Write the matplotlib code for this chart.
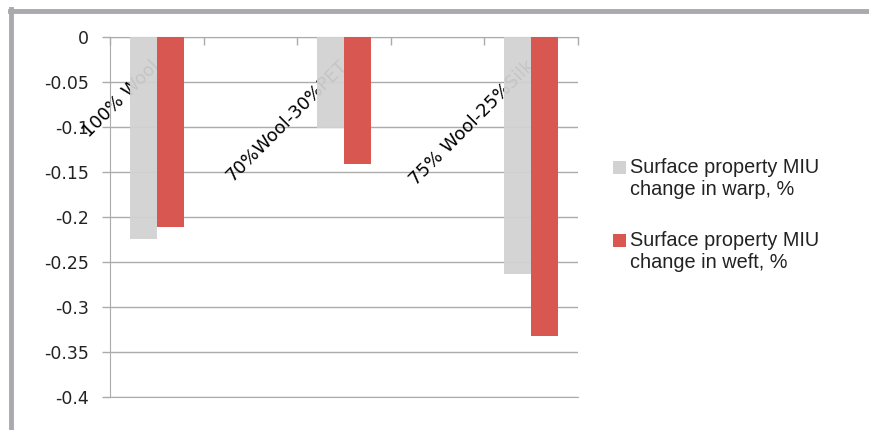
import numpy as np
import matplotlib.pyplot as plt
from matplotlib.lines import Line2D
from matplotlib.patches import Rectangle

# данные
categories = ["100% Wool", "", "70%Wool-30%PET", "", "75% Wool-25%Silk"]
warp = [-0.225, np.nan, -0.101, np.nan, -0.263]
weft = [-0.211, np.nan, -0.141, np.nan, -0.332]
series_names = ["Surface property MIU\nchange in warp, %",
                "Surface property MIU\nchange in weft, %"]
yticks = [0, -0.05, -0.1, -0.15, -0.2, -0.25, -0.3, -0.35, -0.4]
ytick_labels = ["0", "-0.05", "-0.1", "-0.15", "-0.2", "-0.25", "-0.3", "-0.35", "-0.4"]

gray = "#d2d2d2"
red = "#d85750"
colors = [gray, red]

fig = plt.figure(figsize=(8.7, 4.3), dpi=100)
ax = fig.add_axes([110 / 870, 1 - 397 / 430, 468 / 870, 360 / 430])

x = np.arange(len(categories))
w = 0.288
ax.bar(x - w / 2, warp, w, color=gray, alpha=0.94, zorder=3)
ax.bar(x + w / 2, weft, w, color=red, zorder=3)

# подписи категорий под осью, повернутые на 45 градусов
for i, name in enumerate(categories):
    if name:
        ax.text(i + 0.07, -0.022, name, rotation=45, ha="right", va="top",
                fontsize=13, color="black", zorder=2)

ax.set_xlim(-0.5, len(categories) - 0.5)
ax.set_ylim(-0.4, 0)
ax.set_yticks(yticks)
ax.set_yticklabels(ytick_labels, fontsize=12.5, color="#222222")
ax.yaxis.grid(True, color="#ababab", linewidth=1, zorder=0)
ax.set_axisbelow(True)

ax.xaxis.set_ticks_position("top")
ax.set_xticks(np.arange(-0.5, len(categories)))
ax.set_xticklabels([])
ax.tick_params(axis="x", direction="in", length=6, color="#ababab", width=1)
ax.tick_params(axis="y", length=6, color="#ababab", width=1, pad=9)

ax.spines["right"].set_visible(False)
for side in ["left", "top", "bottom"]:
    ax.spines[side].set_color("#ababab")

# легенда справа: квадрат на уровне первой строки
leg_y = [1 - 167 / 430, 1 - 240 / 430]
for name, c, yy in zip(series_names, colors, leg_y):
    fig.add_artist(Rectangle((613 / 870, yy - 6.5 / 430), 13 / 870, 13 / 430,
                             facecolor=c, edgecolor="none", transform=fig.transFigure))
    fig.text(630 / 870, yy + 9 / 430, name, ha="left", va="top",
             family="Liberation Sans", fontsize=14.3, color="#222222",
             linespacing=1.2)

# рамка вокруг картинки
fig.add_artist(Line2D([10 / 870, 1], [1 - 10.5 / 430, 1 - 10.5 / 430],
                      color="#a9a9ae", linewidth=3.5))
fig.add_artist(Line2D([11.5 / 870, 11.5 / 870], [0, 1 - 9 / 430],
                      color="#a9a9ae", linewidth=3.5))

fig.savefig("out.png", dpi=100)
